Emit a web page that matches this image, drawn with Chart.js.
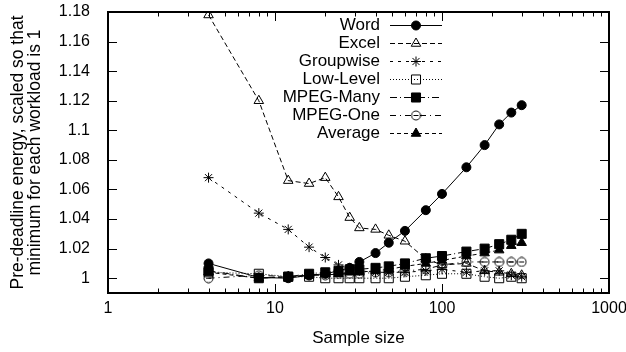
<!DOCTYPE html>
<html>
<head>
<meta charset="utf-8">
<script src="https://cdn.jsdelivr.net/npm/chart.js@4"></script>
<style>
  body { margin: 0; background: #fff; }
  canvas { display: block; }
</style>
</head>
<body>
<canvas id="myChart" width="626" height="352"></canvas>
<script>
// data
const sampleSizes = [4, 8, 12, 16, 20, 24, 28, 32, 40, 48, 60, 80, 100, 140, 180, 220, 260, 300];
const word      = [1.010, 1.0005, 1.000, 1.002, 1.003, 1.005, 1.007, 1.011, 1.017, 1.024, 1.032, 1.046, 1.057, 1.075, 1.090, 1.104, 1.112, 1.117];
const excel     = [1.178, 1.120, 1.066, 1.064, 1.068, 1.055, 1.041, 1.034, 1.033, 1.029, 1.025, 1.013, 1.009, 1.010, 1.005, 1.004, 1.003, 1.002];
const groupwise = [1.068, 1.044, 1.033, 1.021, 1.014, 1.009, 1.007, 1.005, 1.004, 1.004, 1.004, 1.005, 1.006, 1.004, 1.005, 1.005, 1.002, 1.001];
const lowLevel  = [1.004, 1.003, 1.001, 1.001, 1.000, 1.000, 1.000, 1.000, 1.000, 1.000, 1.001, 1.002, 1.003, 1.003, 1.001, 1.000, 1.001, 1.000];
const mpegMany  = [1.005, 1.000, 1.001, 1.003, 1.004, 1.005, 1.006, 1.006, 1.007, 1.008, 1.010, 1.0135, 1.015, 1.018, 1.020, 1.023, 1.026, 1.030];
const mpegOne   = [1.000, 1.002, 1.001, 1.002, 1.002, 1.003, 1.003, 1.003, 1.004, 1.004, 1.005, 1.006, 1.009, 1.011, 1.011, 1.011, 1.011, 1.011];
const average   = [1.004, 1.000, 1.001, 1.002, 1.003, 1.003, 1.004, 1.004, 1.005, 1.006, 1.008, 1.010, 1.012, 1.015, 1.017, 1.019, 1.022, 1.024];

const seriesNames = ['Word', 'Excel', 'Groupwise', 'Low-Level', 'MPEG-Many', 'MPEG-One', 'Average'];
const seriesValues = [word, excel, groupwise, lowLevel, mpegMany, mpegOne, average];

const xTicks = [1, 10, 100, 1000];
const yTicks = [1, 1.02, 1.04, 1.06, 1.08, 1.1, 1.12, 1.14, 1.16, 1.18];

const FONT = '"Liberation Sans", Arial, sans-serif';

// circle with a bar, gnuplot style
function circleMinus() {
    const c = document.createElement('canvas');
    c.width = 11; c.height = 11;
    const g = c.getContext('2d');
    g.strokeStyle = '#000';
    g.lineWidth = 1;
    g.beginPath(); g.arc(5.5, 5.5, 4.5, 0, Math.PI * 2); g.stroke();
    g.beginPath(); g.moveTo(3, 5.5); g.lineTo(8, 5.5); g.stroke();
    return c;
}

const styles = [
    { dash: [], point: 'circle', radius: 4.5, fill: '#000' },
    { dash: [5, 3], point: 'triangle', radius: 5.5, fill: 'rgba(0,0,0,0)' },
    { dash: [3, 5], point: 'star', radius: 5, fill: 'rgba(0,0,0,0)' },
    { dash: [1, 2], point: 'rect', radius: 6.4, fill: 'rgba(0,0,0,0)' },
    { dash: [7, 3, 1, 3], point: 'rect', radius: 6.4, fill: '#000' },
    { dash: [6, 4, 1, 4], point: circleMinus(), radius: 4.5, fill: 'rgba(0,0,0,0)' },
    { dash: [4, 3], point: 'triangle', radius: 5.5, fill: '#000' }
];

const datasets = seriesNames.map((name, i) => ({
    label: name,
    data: sampleSizes.map((s, j) => ({ x: s, y: seriesValues[i][j] })),
    borderColor: '#000',
    borderWidth: 1,
    borderDash: styles[i].dash,
    pointStyle: styles[i].point,
    pointRadius: styles[i].radius,
    pointBackgroundColor: styles[i].fill,
    pointBorderColor: '#000',
    pointBorderWidth: 1,
    tension: 0,
    fill: false
}));

// border box plus inward ticks on all four sides
const framePlugin = {
    id: 'frame',
    beforeDatasetsDraw(chart) {
        const { ctx, chartArea: a, scales: { x, y } } = chart;
        ctx.save();
        ctx.strokeStyle = '#000';
        ctx.lineWidth = 1;
        ctx.beginPath();
        for (let d = 1; d < 1000; d *= 10) {
            for (let m = 1; m < 10; m++) {
                const px = Math.round(x.getPixelForValue(d * m)) + 0.5;
                const len = m === 1 ? 9 : 4.5;
                ctx.moveTo(px, a.bottom); ctx.lineTo(px, a.bottom - len);
                ctx.moveTo(px, a.top); ctx.lineTo(px, a.top + len);
            }
        }
        yTicks.forEach(v => {
            const py = Math.round(y.getPixelForValue(v)) + 0.5;
            ctx.moveTo(a.left, py); ctx.lineTo(a.left + 9, py);
            ctx.moveTo(a.right, py); ctx.lineTo(a.right - 9, py);
        });
        ctx.stroke();
        ctx.lineWidth = 2;
        ctx.strokeRect(a.left, a.top, a.right - a.left, a.bottom - a.top);
        ctx.restore();
    },
    afterDatasetsDraw(chart) {
        // legend, gnuplot layout: text right aligned, sample line to the right
        const ctx = chart.ctx;
        ctx.save();
        ctx.font = '17px ' + FONT;
        ctx.textAlign = 'right';
        ctx.textBaseline = 'middle';
        chart.data.datasets.forEach((ds, i) => {
            const ly = 25 + i * 18;
            ctx.fillStyle = '#000';
            ctx.fillText(ds.label, 380, ly);
            ctx.strokeStyle = '#000';
            ctx.lineWidth = 1;
            ctx.setLineDash(ds.borderDash);
            ctx.beginPath(); ctx.moveTo(390, ly + 0.5); ctx.lineTo(442, ly + 0.5); ctx.stroke();
            ctx.setLineDash([]);
            ctx.fillStyle = ds.pointBackgroundColor;
            Chart.helpers.drawPoint(ctx, { pointStyle: ds.pointStyle, radius: ds.pointRadius, borderWidth: 1, rotation: 0 }, 416, ly + 0.5);
        });
        ctx.restore();
    }
};

const ctx = document.getElementById('myChart').getContext('2d');
const myChart = new Chart(ctx, {
    type: 'line',
    data: { datasets: datasets },
    plugins: [framePlugin],
    options: {
        responsive: false,
        animation: false,
        layout: { padding: { top: 12, right: 17, left: 0, bottom: 0 } },
        plugins: { legend: { display: false }, tooltip: { enabled: false } },
        scales: {
            x: {
                type: 'logarithmic',
                min: 1,
                max: 1000,
                afterBuildTicks: s => { s.ticks = xTicks.map(v => ({ value: v })); },
                afterFit: s => { s.height = 59; s.paddingLeft = 0; s.paddingRight = 0; },
                grid: { display: false, drawTicks: false },
                border: { display: false },
                ticks: {
                    color: '#000',
                    font: { family: FONT, size: 16 },
                    padding: 6,
                    maxRotation: 0,
                    autoSkip: false,
                    callback: v => String(v)
                },
                title: {
                    display: true,
                    text: 'Sample size',
                    color: '#000',
                    font: { family: FONT, size: 17 },
                    padding: { top: 0, bottom: 3 }
                }
            },
            y: {
                min: 0.99,
                max: 1.18,
                afterBuildTicks: s => { s.ticks = yTicks.map(v => ({ value: v })); },
                afterFit: s => { s.width = 108; s.paddingTop = 0; s.paddingBottom = 0; },
                grid: { display: false, drawTicks: false },
                border: { display: false },
                ticks: {
                    color: '#000',
                    font: { family: FONT, size: 16 },
                    padding: 18,
                    callback: v => String(Number(v.toFixed(2)))
                },
                title: {
                    display: true,
                    text: ['Pre-deadline energy, scaled so that', 'minimum for each workload is 1'],
                    color: '#000',
                    font: { family: FONT, size: 17.5, lineHeight: '17px' },
                    padding: { top: 9.5, bottom: 0 }
                }
            }
        }
    }
});
</script>
</body>
</html>
